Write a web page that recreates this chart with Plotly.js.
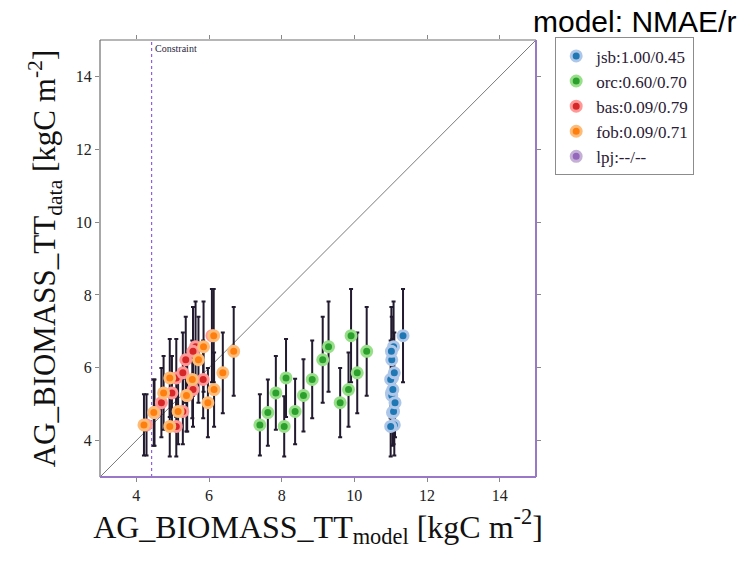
<!DOCTYPE html>
<html>
<head>
<meta charset="utf-8">
<script src="https://cdn.plot.ly/plotly-3.0.1.min.js"></script>
<style>html,body{margin:0;padding:0;background:#fff;}#chart{width:740px;height:565px;}</style>
</head>
<body>
<div id="chart"></div>
<script>
// Observed values (same for every model) and their uncertainty
const obsData = [4.43, 4.77, 5.31, 5.72, 4.39, 4.80, 5.24, 5.68, 6.22, 6.58, 6.88, 5.04, 5.40, 5.86, 6.45];
const obsErr  = [0.84, 0.91, 1.01, 1.07, 0.83, 0.90, 0.99, 1.07, 1.18, 1.24, 1.28, 0.95, 1.02, 1.11, 1.22];

// Model values
const jsbModel = [11.10, 11.05, 11.02, 11.05, 11.00, 11.08, 11.03, 11.00, 11.03, 11.08, 11.34, 11.12, 11.06, 11.10, 11.02];
const orcModel = [7.40, 7.62, 7.84, 8.12, 8.07, 8.37, 8.60, 8.84, 9.13, 9.29, 9.91, 9.61, 9.84, 10.08, 10.34];
const basModel = [4.28, 4.50, 4.98, 5.10, 5.10, 5.28, 5.40, 5.84, 5.36, 5.63, 6.08, 4.69, 5.56, 5.28, 5.56];
const fobModel = [4.21, 4.48, 4.75, 4.92, 4.92, 5.15, 5.38, 5.54, 5.71, 5.85, 6.13, 5.97, 6.14, 6.38, 6.68];
const lpjModel = [];

const legendNames = ["jsb:1.00/0.45", "orc:0.60/0.70", "bas:0.09/0.79", "fob:0.09/0.71", "lpj:--/--"];
const legendTitle = "model: NMAE/r";
const constraintX = 4.42;
const axisMin = 3, axisMax = 15;
const tickVals = [4, 6, 8, 10, 12, 14];

const fills = ["#1f77b4", "#2ca02c", "#d62728", "#ff7f0e", "#9467bd"];
const halos = ["#aec7e8", "#98df8a", "#ff9896", "#ffbb78", "#c5b0d5"];
const models = [jsbModel, orcModel, basModel, fobModel, lpjModel];

const traces = [];
// error bars first (behind all markers)
models.forEach((m, i) => {
  if (!m.length) return;
  traces.push({
    type: "scatter", mode: "markers", x: m, y: obsData,
    marker: {size: 10, opacity: 0},
    error_y: {type: "data", array: obsErr, visible: true, color: "#221a2e", thickness: 2, width: 2},
    showlegend: false, hoverinfo: "skip"
  });
});
models.forEach((m, i) => {
  traces.push({
    type: "scatter", mode: "markers",
    x: m.length ? m : [null], y: m.length ? obsData : [null],
    name: legendNames[i],
    marker: {size: 10, color: fills[i], line: {color: halos[i], width: 3}}
  });
});

const serif = "Liberation Serif";
const layout = {
  width: 740, height: 565,
  margin: {l: 100, r: 204, t: 40, b: 88},
  paper_bgcolor: "#fff", plot_bgcolor: "#fff",
  font: {family: serif, size: 16, color: "#222"},
  showlegend: true,
  legend: {
    x: 1.044, y: 1.006, xanchor: "left", yanchor: "top",
    bordercolor: "#8c8c8c", borderwidth: 1,
    font: {family: serif, size: 17, color: "#2a2035"},
    itemsizing: "trace", tracegroupgap: 0,
    entrywidth: 122, entrywidthmode: "pixels"
  },
  xaxis: {
    range: [axisMin, axisMax], tickvals: tickVals, ticks: "outside", ticklen: 4, tickcolor: "#888",
    mirror: "ticks", showline: false, showgrid: false, zeroline: false,
    tickfont: {family: serif, size: 16, color: "#222"},
    title: {text: "AG_BIOMASS_TT<sub>model</sub> [kgC m<sup>-2</sup>]", font: {family: serif, size: 32, color: "#111"}, standoff: 6}
  },
  yaxis: {
    range: [axisMin, axisMax], tickvals: tickVals, ticks: "outside", ticklen: 4, tickcolor: "#888",
    mirror: "ticks", showline: false, showgrid: false, zeroline: false,
    tickfont: {family: serif, size: 16, color: "#222"},
    title: {text: "AG_BIOMASS_TT<sub>data</sub> [kgC m<sup>-2</sup>]", font: {family: serif, size: 31, color: "#111"}, standoff: 10}
  },
  shapes: [
    {type: "line", xref: "x", yref: "y", x0: axisMin, y0: axisMin, x1: axisMax, y1: axisMax, line: {color: "#7a7a7a", width: 1}, layer: "below"},
    {type: "line", xref: "x", yref: "paper", x0: constraintX, x1: constraintX, y0: 0, y1: 1, line: {color: "#9060e0", width: 1.2, dash: "dot"}, layer: "below"},
    {type: "line", xref: "paper", yref: "paper", x0: 0, x1: 1, y0: 1, y1: 1, line: {color: "#6e6e6e", width: 1.2}},
    {type: "line", xref: "paper", yref: "paper", x0: 0, x1: 0, y0: 0, y1: 1, line: {color: "#6e6e6e", width: 1.2}},
    {type: "line", xref: "paper", yref: "paper", x0: 0, x1: 1, y0: 0, y1: 0, line: {color: "#9a78c8", width: 2}},
    {type: "line", xref: "paper", yref: "paper", x0: 1, x1: 1, y0: 0, y1: 1, line: {color: "#9a78c8", width: 2}}
  ],
  annotations: [
    {text: "Constraint", xref: "x", yref: "paper", x: constraintX, y: 1, xanchor: "left", yanchor: "top",
     showarrow: false, xshift: 1, yshift: -1, font: {family: serif, size: 10, color: "#2a1f3a"}},
    {text: legendTitle, xref: "paper", yref: "paper", x: 1.463, y: 1.043, xanchor: "right", yanchor: "middle",
     showarrow: false, font: {family: "Liberation Sans", size: 30, color: "#000"}}
  ]
};

Plotly.newPlot("chart", traces, layout, {displayModeBar: false, staticPlot: true});
</script>
</body>
</html>
